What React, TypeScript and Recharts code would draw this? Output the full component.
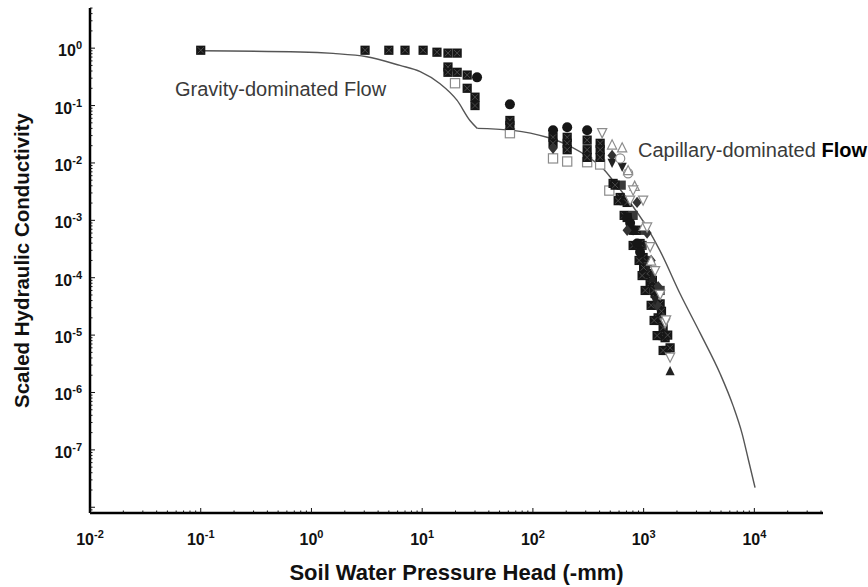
import { ComposedChart, XAxis, YAxis, Line, Scatter } from 'recharts';

// fitted conductivity curve (two branches meeting at the kink)
const gravityCurve: [number, number][] = [
  [0.1, 0.9], [0.79, 0.86], [1.57, 0.81], [3.16, 0.71], [6.3, 0.5], [9.6, 0.39], [14.5, 0.24],
  [20.6, 0.124], [27, 0.055], [31.5, 0.04],
];
const capillaryCurve: [number, number][] = [
  [31.5, 0.04], [66, 0.037], [134, 0.028], [218, 0.0195], [330, 0.012],
  [430, 0.008], [526, 0.005], [710, 0.0024], [1070, 7.6e-4], [1400, 3e-4], [2140, 5.2e-5],
  [3250, 1.07e-5], [4920, 2.1e-6], [6420, 5.9e-7], [7760, 1.9e-7], [8790, 7e-8], [10150, 2.2e-8],
];

// measured points, grouped by marker
const filledSquares: [number, number][] = [
  [0.1, 0.92], [3.05, 0.92], [5.0, 0.92], [7.0, 0.92], [10.2, 0.92], [13.6, 0.85], [17.1, 0.82],
  [20.7, 0.82], [17.1, 0.47], [17.1, 0.38], [20.7, 0.38], [25.5, 0.34], [25.5, 0.2], [30, 0.14], [30, 0.1],
  [62, 0.055], [62, 0.045], [152, 0.028], [152, 0.022], [204, 0.028], [204, 0.022], [204, 0.017],
  [309, 0.025], [309, 0.017], [309, 0.0125], [405, 0.022], [405, 0.017], [405, 0.0125],
  [530, 0.0044], [614, 0.0025], [710, 0.00205], [710, 0.00112], [804, 6.7e-4], [929, 3.95e-4],
  [989, 2.25e-4], [1075, 1.18e-4], [1145, 7.9e-5], [1270, 5.3e-5], [1410, 3.5e-5], [1352, 2.0e-5],
  [1500, 1.35e-5], [1563, 9e-6], [1734, 6e-6], [1000, 1.5e-4], [1200, 9e-5], [1450, 2.6e-5], [1650, 1.0e-5],
  [553, 4.1e-3], [589, 2.2e-3], [667, 1.22e-3], [855, 6.7e-4], [804, 3.65e-4], [910, 2.0e-4],
  [969, 1.09e-4], [1032, 6e-5], [1244, 6e-5], [1169, 3.3e-5], [1244, 1.8e-5], [1324, 9.8e-6], [1500, 5.4e-6],
];
const grayFilled: [number, number][] = [
  [627, 4.1e-3], [667, 2.2e-3], [804, 1.22e-3], [969, 6.7e-4], [969, 3.65e-4], [1032, 2.0e-4],
  [1169, 1.09e-4], [1324, 3.3e-5], [1409, 1.8e-5], [1500, 9.8e-6], [1596, 5.4e-6], [1409, 6e-5],
];
const filledCircles: [number, number][] = [
  [31.3, 0.31], [62, 0.105], [152, 0.037], [204, 0.042], [309, 0.037],
  [710, 0.00112], [804, 6.7e-4], [873, 3.95e-4], [929, 2.8e-4], [755, 9e-4],
];
const openSquares: [number, number][] = [
  [19.8, 0.245], [62, 0.033], [152, 0.012], [204, 0.0106], [309, 0.0103], [405, 0.0094], [490, 0.0033],
];
const openDown: [number, number][] = [
  [422, 0.033], [804, 0.0033], [989, 0.0022], [1075, 7.5e-4], [1145, 3.4e-4], [1270, 1.3e-4],
  [1410, 5e-5], [1563, 1.6e-5], [1734, 4.05e-6], [755, 2.2e-3], [1596, 1.8e-5],
];
const openUp: [number, number][] = [
  [519, 0.021], [640, 0.0187], [724, 0.0075], [830, 0.004], [1000, 8e-4], [1169, 2e-4],
];
const filledDown: [number, number][] = [[519, 0.0098], [640, 0.0084], [1270, 4e-5], [1098, 1.5e-4]];
const diamonds: [number, number][] = [
  [152, 0.018], [519, 0.0135], [873, 0.00205], [1075, 6e-4], [1352, 7e-5], [1500, 2e-5],
  [710, 6.7e-4], [1169, 2e-4], [1324, 3.3e-5],
];
const filledUp: [number, number][] = [[1734, 2.4e-6], [1200, 1e-4]];
const openCircles: [number, number][] = [[724, 0.0066], [614, 0.012]];

const xLabels = [1e-2, 1e-1, 1e0, 1e1, 1e2, 1e3, 1e4];
const yLabels = [1e-7, 1e-6, 1e-5, 1e-4, 1e-3, 1e-2, 1e-1, 1e0];

const X_MIN = 1e-2;
const X_MAX = Math.pow(10, 4.62);
const Y_MIN = Math.pow(10, -8.1);
const Y_MAX = Math.pow(10, 0.7);

const minorTicks = (lo: number, hi: number) => {
  const out: number[] = [];
  for (let e = Math.floor(Math.log10(lo)); e <= Math.ceil(Math.log10(hi)); e++) {
    for (let m = 1; m < 10; m++) {
      const v = m * Math.pow(10, e);
      if (v >= lo && v <= hi) out.push(v);
    }
  }
  return out;
};
const xTicks = minorTicks(X_MIN, X_MAX);
const yTicks = minorTicks(Y_MIN, Y_MAX);

const isMajor = (v: number) => Math.abs(Math.log10(v) - Math.round(Math.log10(v))) < 1e-9;
const FONT = '"Liberation Sans", Arial, sans-serif';

const toPts = (arr: [number, number][]) => arr.map(([x, y]) => ({ x, y }));

function XTick(props: any) {
  const { x, y, payload } = props;
  const v = payload.value;
  const axisY = y - 8;
  const major = isMajor(v);
  const show = major && xLabels.some((t) => Math.abs(t - v) / t < 1e-9);
  return (
    <g>
      <line x1={x} x2={x} y1={axisY} y2={axisY - (major ? 5 : 2.5)} stroke="#111" strokeWidth={1} />
      {show && (
        <text x={x} y={axisY + 32} textAnchor="middle" fontFamily={FONT} fontWeight="bold" fontSize={16} fill="#111">
          <tspan>10</tspan>
          <tspan dy={-7} fontSize={11}>{Math.round(Math.log10(v))}</tspan>
        </text>
      )}
    </g>
  );
}

function YTick(props: any) {
  const { x, y, payload } = props;
  const v = payload.value;
  const axisX = x + 8;
  const major = isMajor(v);
  const show = major && yLabels.some((t) => Math.abs(t - v) / t < 1e-9);
  return (
    <g>
      <line x1={axisX} x2={axisX + (major ? 5 : 2.5)} y1={y} y2={y} stroke="#111" strokeWidth={1} />
      {show && (
        <text x={axisX - 8} y={y + 8} textAnchor="end" fontFamily={FONT} fontWeight="bold" fontSize={16} fill="#111">
          <tspan>10</tspan>
          <tspan dy={-7} fontSize={11}>{Math.round(Math.log10(v))}</tspan>
        </text>
      )}
    </g>
  );
}

function Marker(props: any) {
  const { cx, cy, kind } = props;
  if (cx == null || cy == null) return null;
  const s = 4.6;
  const dark = '#161616';
  const gray = '#8c8c8c';
  switch (kind) {
    case 'square':
      return (
        <g>
          <rect x={cx - s} y={cy - s} width={2 * s} height={2 * s} fill={dark} />
          <path d={`M${cx - s + 1.5},${cy - s + 1.5}L${cx + s - 1.5},${cy + s - 1.5}M${cx + s - 1.5},${cy - s + 1.5}L${cx - s + 1.5},${cy + s - 1.5}`} stroke="#555" strokeWidth={0.8} />
        </g>
      );
    case 'graySquare':
      return <rect x={cx - s} y={cy - s} width={2 * s} height={2 * s} fill="#3a3a3a" />;
    case 'openSquare':
      return <rect x={cx - s} y={cy - s} width={2 * s} height={2 * s} fill="#fff" stroke={gray} strokeWidth={1.2} />;
    case 'circle':
      return <circle cx={cx} cy={cy} r={s + 0.4} fill={dark} />;
    case 'openCircle':
      return <circle cx={cx} cy={cy} r={s} fill="#fff" stroke={gray} strokeWidth={1.2} />;
    case 'openDown':
      return <path d={`M${cx - s},${cy - s}L${cx + s},${cy - s}L${cx},${cy + s}Z`} fill="#fff" stroke={gray} strokeWidth={1.2} />;
    case 'filledDown':
      return <path d={`M${cx - s},${cy - s}L${cx + s},${cy - s}L${cx},${cy + s}Z`} fill="#222" />;
    case 'openUp':
      return <path d={`M${cx - s},${cy + s}L${cx + s},${cy + s}L${cx},${cy - s}Z`} fill="#fff" stroke={gray} strokeWidth={1.2} />;
    case 'filledUp':
      return <path d={`M${cx - s},${cy + s}L${cx + s},${cy + s}L${cx},${cy - s}Z`} fill="#222" />;
    case 'diamond':
      return <path d={`M${cx},${cy - s - 1}L${cx + s},${cy}L${cx},${cy + s + 1}L${cx - s},${cy}Z`} fill="#333" />;
    default:
      return null;
  }
}

const shape = (kind: string) => (p: any) => <Marker {...p} kind={kind} />;

export default function App() {
  return (
    <div style={{ position: 'absolute', left: 0, top: 0, width: 868, height: 587, background: '#fff' }}>
      <ComposedChart width={868} height={587} margin={{ top: 8, right: 45, bottom: 0, left: 8 }}>
        <XAxis
          type="number"
          dataKey="x"
          scale="log"
          domain={[X_MIN, X_MAX]}
          allowDataOverflow
          ticks={xTicks}
          interval={0}
          tickSize={0}
          tickMargin={8}
          tickLine={false}
          tick={<XTick />}
          height={74}
          axisLine={{ stroke: '#000', strokeWidth: 2.5 }}
          label={{
            value: 'Soil Water Pressure Head (-mm)',
            position: 'insideBottom',
            offset: 7,
            style: { fontFamily: FONT, fontWeight: 'bold', fontSize: 22, fill: '#111' },
          }}
        />
        <YAxis
          type="number"
          dataKey="y"
          scale="log"
          domain={[Y_MIN, Y_MAX]}
          allowDataOverflow
          ticks={yTicks}
          interval={0}
          tickSize={0}
          tickMargin={8}
          tickLine={false}
          tick={<YTick />}
          width={82}
          axisLine={{ stroke: '#000', strokeWidth: 2.5 }}
          label={{
            value: 'Scaled Hydraulic Conductivity',
            angle: -90,
            position: 'insideLeft',
            offset: 14,
            style: { fontFamily: FONT, fontWeight: 'bold', fontSize: 20.5, fill: '#111', textAnchor: 'middle' },
          }}
        />
        <Line
          data={toPts(gravityCurve)}
          dataKey="y"
          type="monotone"
          stroke="#555"
          strokeWidth={1.4}
          dot={false}
          activeDot={false}
          isAnimationActive={false}
        />
        <Line
          data={toPts(capillaryCurve)}
          dataKey="y"
          type="monotone"
          stroke="#555"
          strokeWidth={1.4}
          dot={false}
          activeDot={false}
          isAnimationActive={false}
        />
        <Scatter data={toPts(openSquares)} shape={shape('openSquare')} isAnimationActive={false} />
        <Scatter data={toPts(grayFilled)} shape={shape('graySquare')} isAnimationActive={false} />
        <Scatter data={toPts(filledSquares)} shape={shape('square')} isAnimationActive={false} />
        <Scatter data={toPts(filledCircles)} shape={shape('circle')} isAnimationActive={false} />
        <Scatter data={toPts(diamonds)} shape={shape('diamond')} isAnimationActive={false} />
        <Scatter data={toPts(filledDown)} shape={shape('filledDown')} isAnimationActive={false} />
        <Scatter data={toPts(filledUp)} shape={shape('filledUp')} isAnimationActive={false} />
        <Scatter data={toPts(openCircles)} shape={shape('openCircle')} isAnimationActive={false} />
        <Scatter data={toPts(openUp)} shape={shape('openUp')} isAnimationActive={false} />
        <Scatter data={toPts(openDown)} shape={shape('openDown')} isAnimationActive={false} />
      </ComposedChart>
      <svg width={868} height={587} style={{ position: 'absolute', left: 0, top: 0, pointerEvents: 'none' }}>
        <text x={175} y={96} fontFamily={FONT} fontSize={20} fill="#3a3a3a">Gravity-dominated Flow</text>
        <text x={638} y={157} fontFamily={FONT} fontSize={20} fill="#3a3a3a">
          Capillary-dominated <tspan fill="#000" fontWeight="bold">Flow</tspan>
        </text>
      </svg>
    </div>
  );
}
